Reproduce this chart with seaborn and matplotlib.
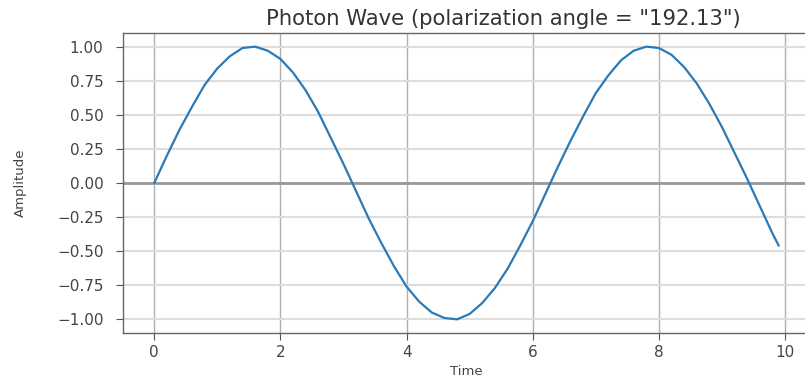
import matplotlib
matplotlib.use("Agg")
import matplotlib.pyplot as plt
import seaborn as sns
import pandas as pd

time = [0.0, 0.2, 0.4, 0.6, 0.8, 1.0, 1.2, 1.4, 1.6, 1.8, 2.0, 2.2, 2.4, 2.6, 2.8,
        3.0, 3.2, 3.4, 3.6, 3.8, 4.0, 4.2, 4.4, 4.6, 4.8, 5.0, 5.2, 5.4, 5.6, 5.8,
        6.0, 6.2, 6.4, 6.6, 6.8, 7.0, 7.2, 7.4, 7.6, 7.8, 8.0, 8.2, 8.4, 8.6, 8.8,
        9.0, 9.2, 9.4, 9.6, 9.8, 9.9]
amplitude = [0.00, 0.20, 0.39, 0.56, 0.72, 0.84, 0.93, 0.99, 1.00, 0.97, 0.91, 0.81,
             0.68, 0.52, 0.33, 0.14, -0.06, -0.26, -0.44, -0.61, -0.76, -0.87, -0.95,
             -0.99, -1.00, -0.96, -0.88, -0.77, -0.63, -0.46, -0.28, -0.08, 0.12, 0.31,
             0.49, 0.66, 0.79, 0.90, 0.97, 1.00, 0.99, 0.94, 0.85, 0.73, 0.58, 0.41,
             0.22, 0.03, -0.17, -0.37, -0.46]
title = 'Photon Wave (polarization angle = "192.13")'
yticks = [-1.0, -0.75, -0.5, -0.25, 0.0, 0.25, 0.5, 0.75, 1.0]
xticks = [0, 2, 4, 6, 8, 10]

df = pd.DataFrame({"Time": time, "Amplitude": amplitude})

sns.set_theme(style="white")
plt.rcParams['font.family'] = ['DejaVu Sans']

fig = plt.figure(figsize=(8.05, 3.78), dpi=100)
ax = fig.add_axes([123 / 805, 1 - 333 / 378, (810 - 123) / 805, (333 - 33) / 378])

sns.lineplot(data=df, x="Time", y="Amplitude", ax=ax, color="#2a7ab8", linewidth=1.6)
ax.axhline(0, color="#999999", linewidth=2, zorder=1)

ax.set_xticks(xticks)
ax.set_yticks(yticks)
ax.set_yticklabels([f"{v:.2f}".replace("-", "\u2212") for v in yticks])
ax.set_xlim(-0.495, 10.395)
ax.set_ylim(-1.1, 1.1)
ax.grid(True, axis="x", color="#b0b0b0", linewidth=1)
ax.grid(True, axis="y", color="#dddddd", linewidth=1.5)
ax.set_axisbelow(True)
ax.tick_params(axis="both", which="both", length=5, width=0.8, color="#555555",
               labelsize=11, labelcolor="#444444", bottom=True, left=True)
ax.tick_params(axis="y", pad=9)
for s in ax.spines.values():
    s.set_color("#666666")
    s.set_linewidth(1)

ax.set_title(title, fontsize=15.2, color="#333333", pad=6, x=0.553)
ax.set_xlabel("Time", fontsize=9.5, color="#444444", labelpad=4)
ax.set_ylabel("Amplitude", fontsize=9.5, color="#444444", labelpad=22)

fig.savefig("out.png", dpi=100)
